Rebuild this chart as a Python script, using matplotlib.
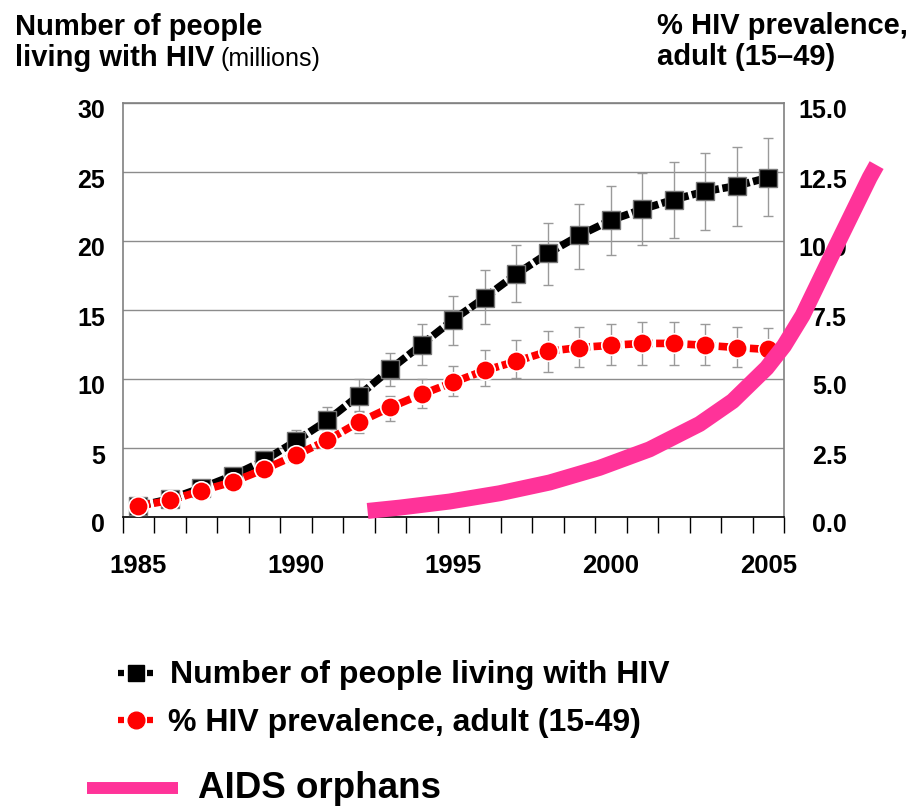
import numpy as np
import matplotlib
matplotlib.use("Agg")
import matplotlib.pyplot as plt
from matplotlib.transforms import ScaledTranslation

plt.rcParams['font.family'] = ['Liberation Sans', 'DejaVu Sans']

# ---------------- data ----------------
years = list(range(1985, 2006))
people = [0.8, 1.3, 2.1, 3.0, 4.1, 5.5, 7.0, 8.8, 10.7, 12.5, 14.3,
          15.9, 17.6, 19.1, 20.4, 21.5, 22.3, 23.0, 23.6, 24.0, 24.6]
people_low = [0.6, 1.0, 1.7, 2.5, 3.5, 4.7, 6.1, 7.7, 9.5, 11.0, 12.5,
              14.0, 15.6, 16.8, 18.0, 19.0, 19.7, 20.2, 20.8, 21.1, 21.8]
people_high = [1.0, 1.6, 2.5, 3.5, 4.8, 6.3, 8.0, 10.0, 11.9, 14.0, 16.0,
               17.9, 19.7, 21.3, 22.7, 24.0, 24.9, 25.7, 26.4, 26.8, 27.5]
prev = [0.40, 0.60, 0.95, 1.27, 1.73, 2.24, 2.78, 3.43, 3.97, 4.45, 4.88,
        5.31, 5.64, 6.00, 6.14, 6.22, 6.29, 6.29, 6.22, 6.14, 6.07]
prev_low = [0.30, 0.50, 0.80, 1.10, 1.50, 2.00, 2.50, 3.05, 3.47, 3.94, 4.37,
            4.73, 5.02, 5.27, 5.42, 5.50, 5.50, 5.50, 5.50, 5.42, 5.42]
prev_high = [0.50, 0.70, 1.10, 1.45, 1.95, 2.50, 3.10, 3.80, 4.40, 4.99, 5.46,
             6.04, 6.40, 6.73, 6.90, 7.00, 7.08, 7.08, 7.00, 6.90, 6.85]
orphans_x = [1992.28, 1993.30, 1994.88, 1996.47, 1998.06, 1999.64, 2001.23,
             2002.82, 2003.87, 2004.95, 2005.50, 2006.09, 2007.17, 2008.22, 2008.44]
orphans_y = [0.22, 0.34, 0.56, 0.86, 1.25, 1.78, 2.45,
             3.37, 4.20, 5.40, 6.20, 7.30, 9.85, 12.30, 12.75]

xtick_years = [1985, 1990, 1995, 2000, 2005]
left_ticks = [0, 5, 10, 15, 20, 25, 30]
right_ticks = [0.0, 2.5, 5.0, 7.5, 10.0, 12.5, 15.0]
right_labels = ['0.0', '2.5', '5.0', '7.5', '10.0', '12.5', '15.0']

legend_labels = ['Number of people living with HIV',
                 '% HIV prevalence, adult (15-49)',
                 'AIDS orphans']

PINK = '#FF3399'
GRID = '#8c8c8c'
ERR = '#9a9a9a'

W, H = 913, 807
fig = plt.figure(figsize=(W / 100, H / 100), dpi=100)

def fx(px):
    return px / W

def fy(py):
    return 1 - py / H

L, R, T, B = 122.5, 784, 103, 517
ax = fig.add_axes([fx(L), fy(B), (R - L) / W, (B - T) / H])
ax.set_xlim(1984.5, 2005.5)
ax.set_ylim(0, 30)
ax.set_axisbelow(True)
ax.yaxis.grid(True, color=GRID, lw=1)

for s in ['left', 'top', 'right']:
    ax.spines[s].set_color('#808080')
    ax.spines[s].set_linewidth(1.2)
ax.spines['bottom'].set_color('black')
ax.spines['bottom'].set_linewidth(1.2)

# people series
yerr_p = [np.array(people) - np.array(people_low), np.array(people_high) - np.array(people)]
ax.errorbar(years, people, yerr=yerr_p, fmt='none', ecolor=ERR, elinewidth=1,
            capsize=3.6, capthick=1, zorder=3)
ax.plot(years, people, color='black', lw=5.5, dashes=(1.6, 0.45),
        dash_capstyle='butt', zorder=4)
ax.plot(years, people, ls='none', marker='s', ms=13, mfc='black',
        mec='#777777', mew=1, zorder=5)

ax.set_yticks(left_ticks, labels=[str(v) for v in left_ticks],
              fontsize=18, fontweight='bold')
ax.tick_params(axis='y', length=0, pad=12.5)
ax.set_xticks(xtick_years, labels=[str(v) for v in xtick_years],
              fontsize=18.5, fontweight='bold')
ax.set_xticks(np.arange(1984.5, 2006, 1.0), minor=True)
ax.tick_params(axis='x', which='major', length=0, pad=26.5)
ax.tick_params(axis='x', which='minor', length=11.5, width=1, color='black')

ax2 = ax.twinx()
ax2.set_ylim(0, 15)
for s in ax2.spines.values():
    s.set_visible(False)
yerr_r = [np.array(prev) - np.array(prev_low), np.array(prev_high) - np.array(prev)]
ax2.errorbar(years, prev, yerr=yerr_r, fmt='none', ecolor=ERR, elinewidth=1,
             capsize=3.6, capthick=1, zorder=3)
ax2.plot(years, prev, color='red', lw=5.5, dashes=(1.6, 0.45),
         dash_capstyle='butt', zorder=4)
ax2.plot(years, prev, ls='none', marker='o', ms=14, mfc='red',
         mec='white', mew=1.2, zorder=5)
ax2.plot(orphans_x, orphans_y, color=PINK, lw=11.5, solid_capstyle='butt',
         solid_joinstyle='round', clip_on=False, zorder=6)
ax2.set_yticks(right_ticks, labels=right_labels, fontsize=18, fontweight='bold')
ax2.tick_params(axis='y', length=0, pad=45.5)
for lbl in ax2.get_yticklabels():
    lbl.set_horizontalalignment('right')

shift = ScaledTranslation(0, -6 / 100, fig.dpi_scale_trans)
for lbl in ax.get_yticklabels() + ax2.get_yticklabels():
    lbl.set_transform(lbl.get_transform() + shift)

# headers
fig.text(fx(15), fy(35), 'Number of people', fontsize=21, fontweight='bold',
         va='baseline', ha='left')
t_bold = fig.text(fx(15), fy(66), 'living with HIV', fontsize=21,
                  fontweight='bold', va='baseline', ha='left')
fig.canvas.draw()
bb = t_bold.get_window_extent()
fig.text((bb.x1 + 6) / W, fy(66), '(millions)', fontsize=18,
         va='baseline', ha='left')
fig.text(fx(657), fy(34), '% HIV prevalence,', fontsize=21, fontweight='bold',
         va='baseline', ha='left')
fig.text(fx(657), fy(65), 'adult (15\u201349)', fontsize=21, fontweight='bold',
         va='baseline', ha='left')

# legend (manual)
lax = fig.add_axes([0, 0, 1, 1])
lax.set_xlim(0, W)
lax.set_ylim(H, 0)
lax.axis('off')
for (x0, x1) in [(118, 124), (147, 153)]:
    lax.plot([x0, x1], [673, 673], color='black', lw=4.5, solid_capstyle='butt')
lax.plot([135.5], [673], marker='s', ms=11.5, mfc='black', mec='black', ls='none')
for (x0, x1) in [(118, 124), (147, 153)]:
    lax.plot([x0, x1], [720, 720], color='red', lw=4.5, solid_capstyle='butt')
lax.plot([135.5], [720], marker='o', ms=12, mfc='red', mec='red', ls='none')
lax.plot([87, 178], [788, 788], color=PINK, lw=8.6, solid_capstyle='butt')

lax.text(170, 683, legend_labels[0], fontsize=23, fontweight='bold', va='baseline')
lax.text(168, 731, legend_labels[1], fontsize=23, fontweight='bold', va='baseline')
lax.text(198, 798, legend_labels[2], fontsize=26.5, fontweight='bold', va='baseline')

fig.savefig('out.png', dpi=100)
